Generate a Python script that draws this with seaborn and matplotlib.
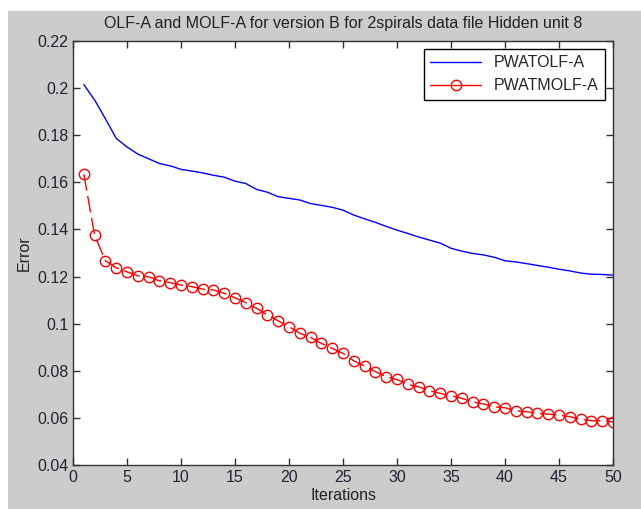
import numpy as np
import pandas as pd
import matplotlib
matplotlib.use('Agg')
import matplotlib.pyplot as plt
from matplotlib.patches import Rectangle
import seaborn as sns

iterations = list(range(1, 51))

pwatolf_a = [0.2015, 0.195, 0.187, 0.1787, 0.175, 0.172, 0.170, 0.168, 0.167, 0.1655,
             0.1648, 0.164, 0.163, 0.1622, 0.1605, 0.1595, 0.157, 0.1558, 0.1539, 0.1532,
             0.1525, 0.151, 0.1502, 0.1494, 0.1482, 0.1461, 0.1445, 0.143, 0.1413, 0.1397,
             0.1383, 0.1368, 0.1355, 0.1342, 0.132, 0.1308, 0.1298, 0.1292, 0.1282, 0.1267,
             0.1262, 0.1255, 0.1247, 0.1240, 0.1231, 0.1224, 0.1215, 0.1210, 0.1209, 0.1206]

pwatmolf_a = [0.1635, 0.1376, 0.1267, 0.1237, 0.122, 0.1203, 0.1199, 0.1182, 0.1174, 0.1164,
              0.1157, 0.1147, 0.1143, 0.1129, 0.111, 0.1089, 0.1065, 0.1037, 0.1012, 0.0987,
              0.0959, 0.0942, 0.0916, 0.0895, 0.0874, 0.0842, 0.0821, 0.0796, 0.0775, 0.0763,
              0.0742, 0.0732, 0.0715, 0.0704, 0.0694, 0.0683, 0.0668, 0.0659, 0.0647, 0.0643,
              0.063, 0.0626, 0.0619, 0.0616, 0.0612, 0.0605, 0.0594, 0.0588, 0.0588, 0.0583]

TITLE = 'OLF-A and MOLF-A for version B for 2spirals data file Hidden unit 8'

sns.set_style('ticks')
plt.rcParams['font.family'] = ['Liberation Sans', 'DejaVu Sans']
plt.rcParams['font.size'] = 11.5
plt.rcParams['xtick.direction'] = 'in'
plt.rcParams['ytick.direction'] = 'in'

fig = plt.figure(figsize=(6.41, 5.09), dpi=100, facecolor='white')
# matlab grey window, offset a bit from top-left
fig.patches.append(Rectangle((8 / 641, 0), 1, 1 - 11 / 509, transform=fig.transFigure,
                             facecolor='#cccccc', edgecolor='none', zorder=-10))
ax = fig.add_axes([73 / 641, 44 / 509, 540 / 641, 424 / 509])
ax.set_facecolor('white')

sns.lineplot(x=iterations, y=pwatolf_a, ax=ax, color='blue', linewidth=1, label='PWATOLF-A')
sns.lineplot(x=iterations, y=pwatmolf_a, ax=ax, color='red', linewidth=1,
             linestyle=(0, (12, 4)), marker='o', markersize=7.5,
             markerfacecolor='none', markeredgecolor='red', markeredgewidth=1,
             label='PWATMOLF-A')

ax.set_xlim(0, 50)
ax.set_ylim(0.04, 0.22)
ax.set_xticks(np.arange(0, 51, 5))
ax.set_yticks(np.round(np.arange(0.04, 0.2201, 0.02), 2))
ax.set_yticklabels(['0.04', '0.06', '0.08', '0.1', '0.12', '0.14', '0.16', '0.18', '0.2', '0.22'])
ax.tick_params(top=True, right=True, length=5, width=1, colors='#333333', labelcolor='#222233')
for s in ax.spines.values():
    s.set_visible(True)
    s.set_color('#333333')
    s.set_linewidth(1)

ax.set_title(TITLE, fontsize=11.5, pad=9, color='#222222')
ax.set_xlabel('Iterations', labelpad=2, color='#222222')
ax.set_ylabel('Error', labelpad=4, color='#222222')

leg = ax.legend(loc='upper right', frameon=True, fancybox=False, edgecolor='black',
                framealpha=1, borderaxespad=0.5, handlelength=3.2, fontsize=11.5)
leg.get_frame().set_linewidth(1)
leg.get_lines()[1].set_linestyle('-')

fig.savefig('out.png', dpi=100)
